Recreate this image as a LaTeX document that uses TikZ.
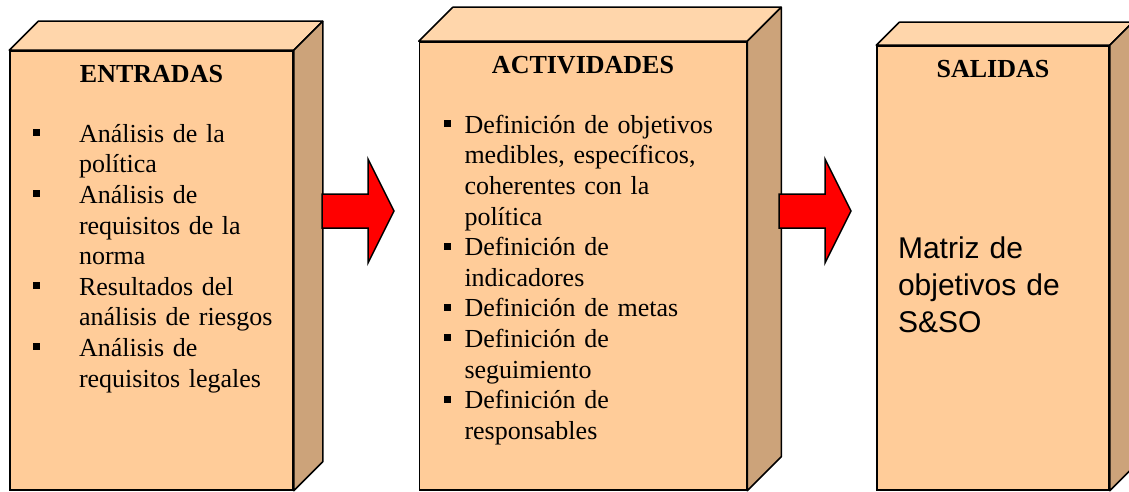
\documentclass[tikz,border=0pt]{standalone}
\usepackage{fontspec}
\setmainfont{Liberation Serif}
\setsansfont{Liberation Sans}
\usetikzlibrary{positioning}
\definecolor{frontc}{HTML}{FFCC99}
\definecolor{topc}{HTML}{FFD6AB}
\definecolor{sidec}{HTML}{CCA37A}
\newcommand{\itm}[2]{\noindent\hangindent=#1\hangafter=1\makebox[#1][l]{\rule[6pt]{7pt}{7pt}}#2\par}
\newcommand{\faces}[2]{%
	\draw[top face] (#1.north west) -- ++(#2,-#2) -- ([shift={(#2,-#2)}]#1.north east) -- (#1.north east) -- cycle;
	\draw[side face] (#1.north east) -- ++(#2,-#2) -- ([shift={(#2,-#2)}]#1.south east) -- (#1.south east) -- cycle;}
\begin{document}
\begin{tikzpicture}[x=1pt,y=-1pt,line width=1.5pt,node distance=32pt,
		front/.style={rectangle,draw,fill=frontc},
		top face/.style={draw,fill=topc,line join=round},
		side face/.style={draw,fill=sidec,line join=round},
		title/.style={inner sep=0pt,font=\fontsize{26}{30}\selectfont\bfseries},
		list/.style={inner sep=0pt,align=left,font=\fontsize{26}{30.6}\selectfont},
		block arrow/.style={draw,fill=red,line join=miter}]
	\useasboundingbox (0,0) rectangle (1129,492);
	\node[front,minimum width=283,minimum height=439] (1) at (151.5,270.5) {};
	\node[front,minimum width=327,minimum height=448] (2) [right=125pt of 1.south east,anchor=south west] {};
	\node[front,minimum width=232,minimum height=444] (3) [right=129pt of 2.south east,anchor=south west] {};
	\faces{1}{29}
	\faces{2}{34}
	\faces{3}{23}
	\node[title] (t1) [below=of 1.north,anchor=base] {ENTRADAS};
	\node[title] (t2) [below=of 2.north,anchor=base] {ACTIVIDADES};
	\node[title] (t3) [below=of 3.north,anchor=base] {SALIDAS};
	\node[list,text width=255pt] (l1) [below right=92pt and 23pt of 1.north west,anchor=base west] {%
		\itm{46pt}{Análisis de la\newline política}
		\itm{46pt}{Análisis de\newline requisitos de la\newline norma}
		\itm{46pt}{Resultados del\newline análisis de riesgos}
		\itm{46pt}{Análisis de\newline requisitos legales}};
	\node[list,text width=295pt] (l2) [below right=92pt and 24pt of 2.north west,anchor=base west] {%
		\itm{21pt}{Definición de objetivos\newline medibles, específicos,\newline coherentes con la\newline política}
		\itm{21pt}{Definición de\newline indicadores}
		\itm{21pt}{Definición de metas}
		\itm{21pt}{Definición de\newline seguimiento}
		\itm{21pt}{Definición de\newline responsables}};
	\node[list,text width=205pt,font=\sffamily\fontsize{30}{37}\selectfont] (l3) [below right=213pt and 21pt of 3.north west,anchor=base west] {Matriz de\newline objetivos de\newline S\&SO};
	% flechas
	\coordinate (a1) at (322,211);
	\coordinate (a2) at (779,211);
	\foreach \s in {a1,a2}
		\draw[block arrow] (\s) +(0,-17) -- +(46,-17) -- +(46,-52) -- +(72,0) -- +(46,52) -- +(46,17) -- +(0,17) -- cycle;
\end{tikzpicture}
\end{document}
